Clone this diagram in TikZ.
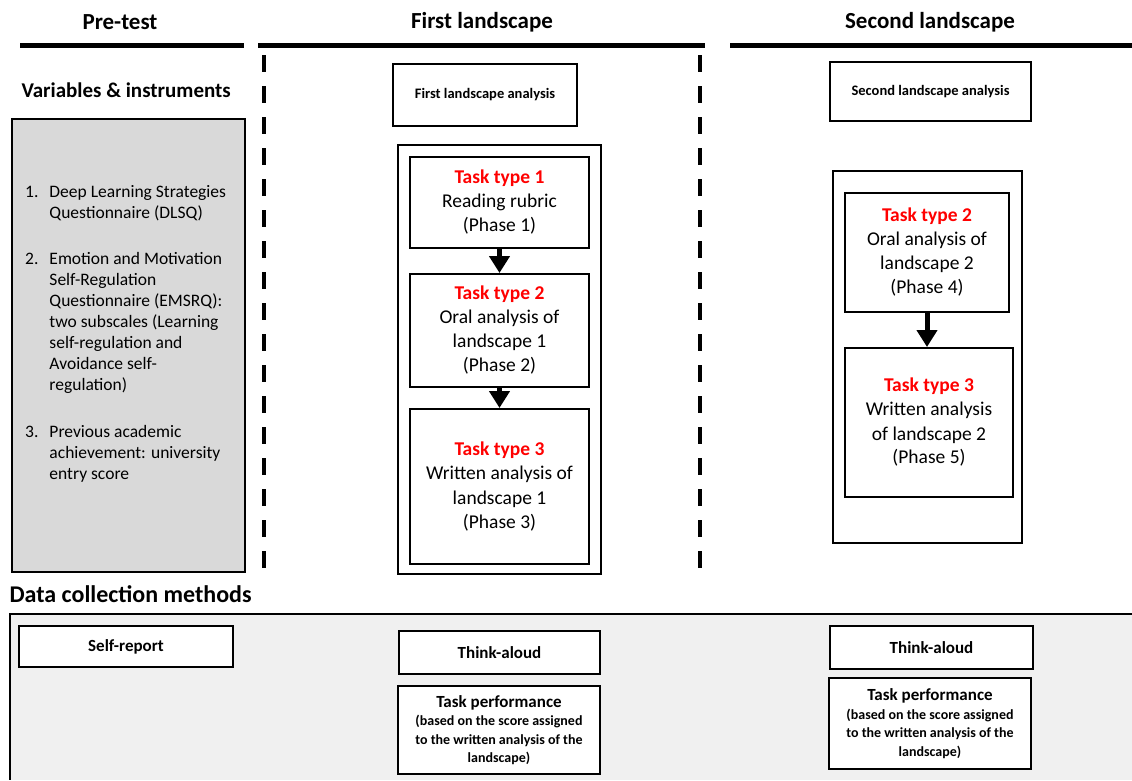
\documentclass[tikz,border=0pt]{standalone}
\usepackage{fontspec}
\setmainfont{Carlito}
\usepackage{tikz}
\usetikzlibrary{arrows.meta,positioning}
\definecolor{kastengrau}{HTML}{D9D9D9}
\definecolor{bandgrau}{HTML}{F0F0F0}
\definecolor{taskrot}{HTML}{FF0000}
\begin{document}
\begin{tikzpicture}[x=1pt,y=-1pt,
  kasten/.style={draw,line width=2pt,fill=white,inner sep=0pt,align=center},
  kopf/.style={font=\fontsize{23}{26}\selectfont\bfseries},
  task/.style={kasten,font=\fontsize{19.5}{24}\selectfont},
  methode/.style={kasten,font=\fontsize{17}{20}\selectfont\bfseries},
  pfeil/.style={line width=5pt,-{Triangle[width=20pt,length=17pt]}},
  trenner/.style={line width=4pt,dash pattern=on 17pt off 14pt}]
\useasboundingbox (0,0) rectangle (1132,780);
%Kopfzeile mit den drei Abschnitten
\node[kopf] (pre) at (120,22) {Pre-test};
\node[kopf] (first) at (482,22) {First landscape};
\node[kopf] (second) at (930,22) {Second landscape};
\draw[line width=5pt] (20,45) -- (244,45);
\draw[line width=5pt] (258,45) -- (705,45);
\draw[line width=5pt] (730,45) -- (1132,45);
%gestrichelte Trennlinien
\draw[trenner] (264,55) -- (264,573);
\draw[trenner] (700,55) -- (700,572);
%Pre-test: Variablen und Instrumente
\node[font=\fontsize{21}{24}\selectfont\bfseries,anchor=west] (varkopf) at (18,90) {Variables \& instruments};
\node[draw,line width=2pt,fill=kastengrau,minimum width=233pt,minimum height=453pt,inner sep=0pt] (var) at (128.5,345.5) {};
\node[anchor=north west,inner sep=0pt,font=\fontsize{17.5}{21}\selectfont] (liste) at (25,183) {%
  \begin{tabular}{@{}l@{\hspace{11pt}}l@{}}
  1. & Deep Learning Strategies\\
     & Questionnaire (DLSQ)\\[25pt]
  2. & Emotion and Motivation\\
     & Self-Regulation\\
     & Questionnaire (EMSRQ):\\
     & two subscales (Learning\\
     & self-regulation and\\
     & Avoidance self-\\
     & regulation)\\[26pt]
  3. & Previous academic\\
     & achievement: university\\
     & entry score
  \end{tabular}};
%Erste Landschaft
\node[kasten,font=\fontsize{14.5}{17}\selectfont\bfseries,minimum width=184pt,minimum height=62pt] (ana1) at (485,95) {First landscape analysis};
\draw[line width=2pt] (398,145) rectangle (601,574);
\node[task,minimum width=179pt,minimum height=91pt] (t1) at (499.5,202.5)
  {\textcolor{taskrot}{\bfseries Task type 1}\\Reading rubric\\(Phase 1)};
\node[task,minimum width=179pt,minimum height=113pt] (t2) at (499.5,330.5)
  {\textcolor{taskrot}{\bfseries Task type 2}\\Oral analysis of\\landscape 1\\(Phase 2)};
\node[task,minimum width=179pt,minimum height=155pt] (t3) at (499.5,486.5)
  {\textcolor{taskrot}{\bfseries Task type 3}\\Written analysis of\\landscape 1\\(Phase 3)};
\draw[pfeil] (t1) -- (t2);
\draw[pfeil] (t2) -- (t3);
%Zweite Landschaft
\node[kasten,font=\fontsize{14.5}{17}\selectfont\bfseries,minimum width=201pt,minimum height=59pt] (ana2) at (930.5,91.5) {Second landscape analysis};
\draw[line width=2pt] (833,171) rectangle (1022,543);
\node[task,minimum width=164pt,minimum height=119pt] (r2) at (927,252.5)
  {\textcolor{taskrot}{\bfseries Task type 2}\\Oral analysis of\\landscape 2\\(Phase 4)};
\node[task,minimum width=168pt,minimum height=149pt] (r3) at (929,422.5)
  {\textcolor{taskrot}{\bfseries Task type 3}\\Written analysis\\of landscape 2\\(Phase 5)};
\draw[pfeil] (r2.south) -- (r2.south |- r3.north);
%Methoden der Datenerhebung
\node[font=\fontsize{24}{27}\selectfont\bfseries,anchor=west] (datkopf) at (6,594) {Data collection methods};
\fill[bandgrau] (10,614) rectangle (1132,780);
\draw[line width=2pt] (1132,614) -- (10,614) -- (10,780);
\node[methode,minimum width=214pt,minimum height=41pt] (self) at (126,646.5) {Self-report};
\node[methode,minimum width=201pt,minimum height=43pt] (ta1) at (499.5,652.5) {Think-aloud};
\node[methode,minimum width=202pt,minimum height=88pt,font=\fontsize{14}{18.5}\selectfont\bfseries] (tp1) at (499,730)
  {{\fontsize{17}{20}\selectfont Task performance}\\(based on the score assigned\\to the written analysis of the\\landscape)};
\node[methode,minimum width=203pt,minimum height=43pt] (ta2) at (931.5,647.5) {Think-aloud};
\node[methode,minimum width=202pt,minimum height=91pt,font=\fontsize{14}{18.5}\selectfont\bfseries] (tp2) at (930,723.5)
  {{\fontsize{17}{20}\selectfont Task performance}\\(based on the score assigned\\to the written analysis of the\\landscape)};
\end{tikzpicture}
\end{document}
